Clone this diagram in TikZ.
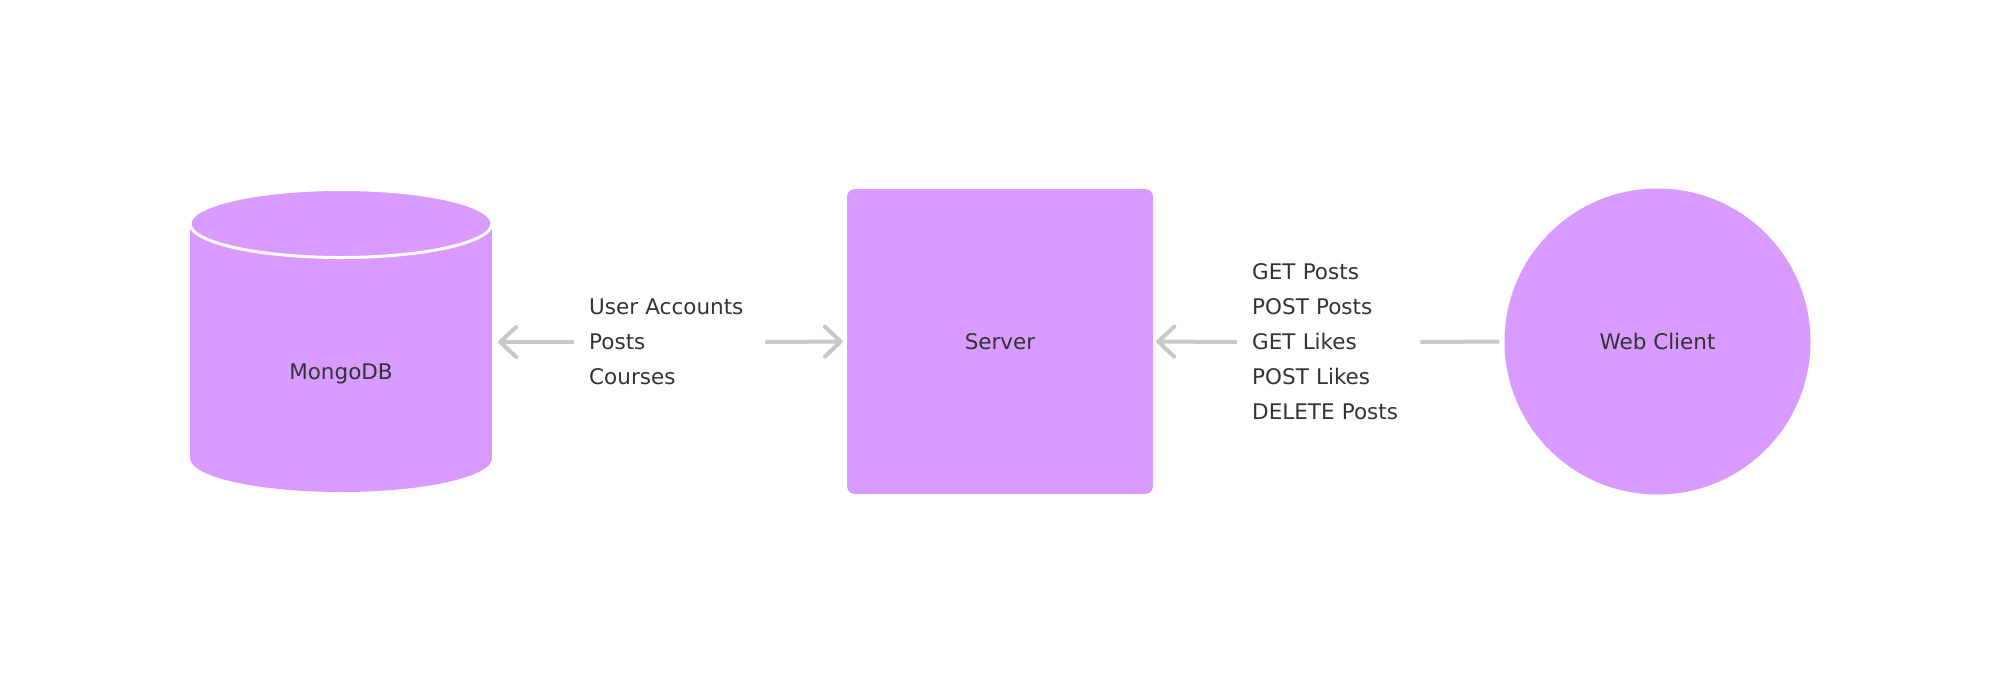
\documentclass[tikz,border=0pt]{standalone}
\usepackage{fontspec}
\setmainfont{DejaVu Sans}
\usetikzlibrary{arrows.meta}
\definecolor{lilac}{HTML}{D99BFF}
\definecolor{wire}{HTML}{C8C8C8}
\definecolor{ink}{HTML}{333333}
\tikzset{%
  every node/.style={text=ink, font=\fontsize{21.5}{35}\selectfont},
  block/.style={fill=lilac, inner sep=0pt}, % purple boxes
  msgs/.style={align=left, anchor=west, inner xsep=15pt, inner ysep=0pt},
  link/.style={draw=wire, line width=4pt},
  tip/.style={-{Straight Barb[length=16pt, width=30pt, round]}}
}

\begin{document}
\begin{tikzpicture}[x=1pt, y=-1pt]
    \useasboundingbox (0,0) rectangle (1999,683);
    % the cylinder
    \fill[lilac] (190,223) rectangle (492,458);
    \fill[lilac] (341,458) ellipse [x radius=151pt, y radius=34pt];
    \filldraw[fill=lilac, draw=white, line width=3pt] (341,223.5) ellipse [x radius=151pt, y radius=34pt];
    \node[minimum width=302pt, minimum height=236pt] (db) at (341,374) {MongoDB};
    \node[block, rounded corners=8pt, minimum width=306pt, minimum height=305pt] (srv) at (1000,341.5) {Server};
    \node[block, circle, minimum size=306pt] (web) at (1657.5,341.5) {Web Client};
    \node[msgs, text width=161pt] (lblA) at (574,342) {User Accounts\\Posts\\Courses};
    \node[msgs, text width=153pt] (lblB) at (1237,342) {GET Posts\\POST Posts\\GET Likes\\POST Likes\\DELETE Posts};
    \draw[link, tip, shorten >=6pt] (lblA.west) -- (lblA.west -| db.east);
    \draw[link, tip, shorten >=4pt] (lblA.east) -- (srv.west);
    \draw[link, tip, shorten >=3pt] (lblB.west) -- (srv.east);
    \draw[link, shorten >=5pt] (lblB.east) -- (web.west);
  \end{tikzpicture}
\end{document}
